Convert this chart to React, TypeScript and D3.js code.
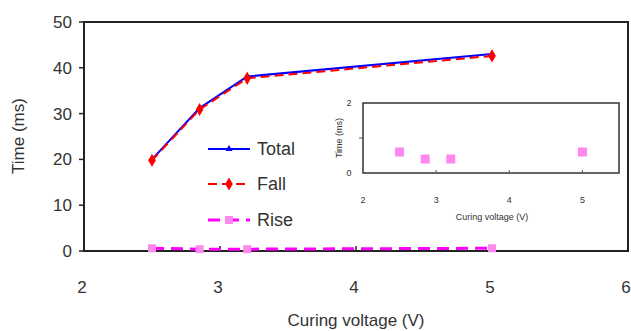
import React from "react";
import * as d3 from "d3";

const voltages = [2.5, 2.85, 3.2, 5.0];
const totalTime = [20.0, 31.2, 38.1, 43.0];
const fallTime = [19.8, 30.9, 37.7, 42.6];
const riseTime = [0.6, 0.4, 0.4, 0.6];
const xTicks = [2, 3, 4, 5, 6];
const yTicks = [0, 10, 20, 30, 40, 50];
const insetXTicks = [2, 3, 4, 5];
const insetYTicks = [0, 1, 2];

const font = "Arial, 'Liberation Sans', sans-serif";

export default function App() {
  const W = 631, H = 331;
  const x = d3.scaleLinear().domain([2, 6]).range([84, 628]);
  const y = d3.scaleLinear().domain([0, 50]).range([251, 22]);
  const ix = d3.scaleLinear().domain([2, 5.5]).range([363, 619]);
  const iy = d3.scaleLinear().domain([0, 2]).range([173, 103]);

  const line = (ys: number[]) =>
    d3.line<number>().x((_, i) => x(voltages[i])).y((v) => y(v))(ys) || "";

  const tri = d3.symbol().type(d3.symbolTriangle).size(22)() || "";
  const dia = d3.symbol().type(d3.symbolDiamond).size(50)() || "";

  const legend = [
    { label: "Total", color: "#0000ff", dash: "", marker: "tri", y: 149, w: 2 },
    { label: "Fall", color: "#ff0000", dash: "9,5", marker: "dia", y: 184, w: 2 },
    { label: "Rise", color: "#ff00ff", dash: "12,7", marker: "sq", y: 220, w: 3 },
  ];

  const marker = (m: string, cx: number, cy: number, key: string | number) => {
    if (m === "tri") return <path key={key} d={tri} transform={`translate(${cx},${cy})`} fill="#0000ff" />;
    if (m === "dia") return <path key={key} d={dia} transform={`translate(${cx},${cy})`} fill="#ff0000" />;
    return <rect key={key} x={cx - 4} y={cy - 4} width={8} height={8} fill="#ff88ee" />;
  };

  return (
    <svg width={W} height={H} style={{ position: "absolute", left: 0, top: 0, background: "#fff" }} fontFamily={font}>
      {/* main frame */}
      <rect x={x(2)} y={y(50)} width={x(6) - x(2)} height={y(0) - y(50)} fill="none" stroke="#222" strokeWidth={2} />
      {yTicks.map((t) => (
        <g key={"y" + t}>
          <line x1={x(2) - 5} x2={x(2)} y1={y(t)} y2={y(t)} stroke="#222" strokeWidth={1.5} />
          <text x={x(2) - 12} y={y(t)} dy="0.35em" textAnchor="end" fontSize={17} fill="#333">{t}</text>
        </g>
      ))}
      {xTicks.map((t) => (
        <g key={"x" + t}>
          <line x1={x(t)} x2={x(t)} y1={y(0)} y2={y(0) - 5} stroke="#222" strokeWidth={1.5} />
          <text x={x(t) - 2} y={293} textAnchor="middle" fontSize={17} fill="#333">{t}</text>
        </g>
      ))}
      <text transform={`translate(24,136) rotate(-90)`} textAnchor="middle" fontSize={17} fill="#333">Time (ms)</text>
      <text x={356} y={326} textAnchor="middle" fontSize={17} fill="#333">Curing voltage (V)</text>

      {/* series */}
      <path d={line(totalTime)} fill="none" stroke="#0000ff" strokeWidth={2} />
      <path d={line(fallTime)} fill="none" stroke="#ff0000" strokeWidth={2} strokeDasharray="9,5" />
      <path d={line(riseTime)} fill="none" stroke="#ff00ff" strokeWidth={3} strokeDasharray="12,7" />
      {voltages.map((v, i) => marker("tri", x(v), y(totalTime[i]), "t" + i))}
      {voltages.map((v, i) => marker("dia", x(v), y(fallTime[i]), "f" + i))}
      {voltages.map((v, i) => marker("sq", x(v), y(riseTime[i]), "r" + i))}

      {/* legend */}
      {legend.map((l) => (
        <g key={l.label}>
          <line x1={208} x2={250} y1={l.y} y2={l.y} stroke={l.color} strokeWidth={l.w} strokeDasharray={l.dash} />
          {marker(l.marker, 229, l.y, "lm" + l.label)}
          <text x={257} y={l.y} dy="0.36em" fontSize={18} fill="#333">{l.label}</text>
        </g>
      ))}

      {/* inset */}
      <rect x={ix(2)} y={iy(2)} width={ix(5.5) - ix(2)} height={iy(0) - iy(2)} fill="#fff" stroke="#333" strokeWidth={1.5} />
      {insetXTicks.map((t) => (
        <g key={"ix" + t}>
          {t > 2 && <line x1={ix(t)} x2={ix(t)} y1={iy(0)} y2={iy(0) - 3} stroke="#555" strokeWidth={1} />}
          <text x={ix(t)} y={203} textAnchor="middle" fontSize={9} fill="#333">{t}</text>
        </g>
      ))}
      {insetYTicks.map((t) => (
        <g key={"iy" + t}>
          {t === 1 && <line x1={ix(2)} x2={ix(2) - 4} y1={iy(t)} y2={iy(t)} stroke="#555" strokeWidth={1} />}
          {t !== 1 && <text x={349} y={iy(t)} dy="0.35em" textAnchor="middle" fontSize={9} fill="#333">{t}</text>}
        </g>
      ))}
      <text transform={`translate(342,138) rotate(-90)`} textAnchor="middle" fontSize={9} fill="#333">Time (ms)</text>
      <text x={492} y={220} textAnchor="middle" fontSize={9} fill="#333">Curing voltage (V)</text>
      {voltages.map((v, i) => (
        <rect key={"ir" + i} x={ix(v) - 4.5} y={iy(riseTime[i]) - 4.5} width={9} height={9} fill="#ff88ee" />
      ))}
    </svg>
  );
}
